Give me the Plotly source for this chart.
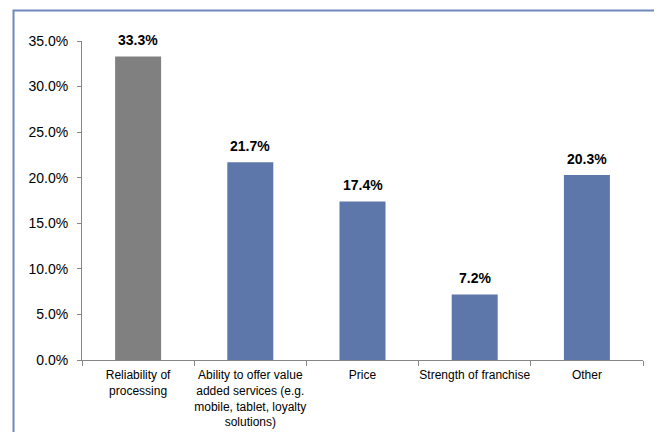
import plotly.graph_objects as go

categories = [
    "Reliability of<br>processing",
    "Ability to offer value<br>added services (e.g.<br>mobile, tablet, loyalty<br>solutions)",
    "Price",
    "Strength of franchise",
    "Other",
]
values = [0.333, 0.217, 0.174, 0.072, 0.203]
bar_colors = ["#808080", "#5E77AB", "#5E77AB", "#5E77AB", "#5E77AB"]
y_ticks = [0, 0.05, 0.10, 0.15, 0.20, 0.25, 0.30, 0.35]

# page body has an 8px margin, so the figure is drawn 8px smaller and offset
OFF = 8
W, H = 662 - OFF, 432 - OFF
L, T = 82 - OFF, 41 - OFF
R, B = 19, 72
pw, ph = W - L - R, H - T - B

def px_x(p):
    return (p - OFF - L) / pw

def px_y(p):
    return (H - B - (p - OFF)) / ph

fig = go.Figure(
    go.Bar(
        x=categories,
        y=values,
        marker=dict(color=bar_colors, line=dict(width=0)),
        hoverinfo="x+y",
    )
)

annotations = [
    dict(
        x=c,
        y=v,
        xref="x",
        yref="y",
        text="<b>{:.1%}</b>".format(v),
        showarrow=False,
        yanchor="bottom",
        yshift=6,
        font=dict(family="Liberation Sans, Arial", size=14, color="#000000"),
    )
    for c, v in zip(categories, values)
]

fig.update_layout(
    width=W,
    height=H,
    margin=dict(l=L, r=R, t=T, b=B),
    paper_bgcolor="white",
    plot_bgcolor="white",
    bargap=0.59,
    showlegend=False,
    font=dict(family="Liberation Sans, Arial", color="#000000"),
    annotations=annotations,
    shapes=[
        dict(
            type="rect",
            xref="paper",
            yref="paper",
            x0=px_x(13.5),
            x1=px_x(655.5),
            y0=px_y(445),
            y1=px_y(10.5),
            line=dict(color="#6F88C0", width=2),
            fillcolor="rgba(0,0,0,0)",
            layer="below",
        )
    ],
)

fig.update_xaxes(
    showline=True,
    linecolor="#868686",
    linewidth=1,
    ticks="outside",
    tickson="boundaries",
    ticklen=5,
    tickcolor="#868686",
    showgrid=False,
    tickangle=0,
    automargin=False,
    ticklabelstandoff=4,
    tickfont=dict(size=12, family="Liberation Sans, Arial"),
)
fig.update_yaxes(
    range=[0, 0.35],
    tickvals=y_ticks,
    tickformat=".1%",
    showline=True,
    linecolor="#868686",
    linewidth=1,
    ticks="outside",
    ticklen=4,
    tickcolor="#868686",
    showgrid=False,
    zeroline=False,
    automargin=False,
    ticklabelstandoff=6,
    tickfont=dict(size=14, family="Liberation Sans, Arial"),
)

fig.write_html("out.html")
